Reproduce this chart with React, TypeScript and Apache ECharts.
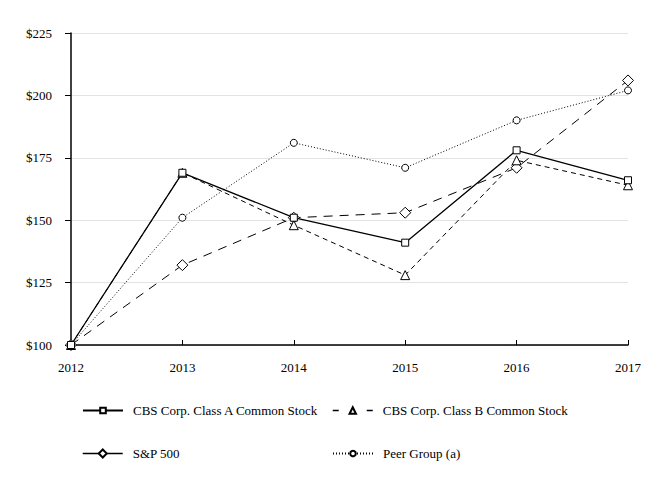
import React, { useEffect, useRef } from "react";
import * as echarts from "echarts";

const years = ["2012", "2013", "2014", "2015", "2016", "2017"];
const classA = [100, 169, 151, 141, 178, 166];
const classB = [100, 169, 148, 128, 174, 164];
const sp500 = [100, 132, 151, 153, 171, 206];
const peer = [100, 151, 181, 171, 190, 202];
const names = [
  "CBS Corp. Class A Common Stock",
  "CBS Corp. Class B Common Stock",
  "S&P 500",
  "Peer Group (a)",
];

const FONT = "'Liberation Serif', 'Times New Roman', serif";

export default function App() {
  const ref = useRef<HTMLDivElement>(null);
  useEffect(() => {
    if (!ref.current) return;
    const chart = echarts.init(ref.current, undefined, { renderer: "svg" });
    const legendBase = {
      itemWidth: 40,
      itemHeight: 7,
      itemGap: 0,
      textStyle: { fontFamily: FONT, fontSize: 13, color: "#000", padding: [0, 0, 0, 5] },
      padding: 0,
    };
    chart.setOption({
      animation: false,
      backgroundColor: "#fff",
      textStyle: { fontFamily: FONT },
      grid: { left: 71, right: 34, top: 33, bottom: 135, containLabel: false },
      xAxis: {
        type: "category",
        data: years,
        boundaryGap: false,
        axisLine: { lineStyle: { color: "#000", width: 1.5 } },
        axisTick: { inside: true, length: 5, lineStyle: { color: "#000" } },
        axisLabel: { fontFamily: FONT, fontSize: 13, color: "#000", margin: 16 },
        splitLine: { show: false },
      },
      yAxis: {
        type: "value",
        min: 100,
        max: 225,
        interval: 25,
        axisLine: { show: true, lineStyle: { color: "#000", width: 1.5 } },
        axisTick: { show: true, length: 6, lineStyle: { color: "#000" } },
        axisLabel: {
          fontFamily: FONT,
          fontSize: 13,
          color: "#000",
          margin: 19,
          formatter: (v: number) => "$" + v,
        },
        splitLine: { lineStyle: { color: "#e3e3e3", width: 1 } },
      },
      legend: [
        { ...legendBase, left: 82, top: 404, data: [names[0]] },
        {
          ...legendBase,
          left: 332,
          top: 404,
          itemHeight: 8,
          data: [{ name: names[1], lineStyle: { type: [6, 28], width: 1.5 } }],
        },
        {
          ...legendBase,
          left: 82,
          top: 447,
          itemHeight: 10,
          data: [{ name: names[2], lineStyle: { type: "solid", width: 1.5 } }],
        },
        { ...legendBase, left: 332, top: 447, data: [names[3]] },
      ],
      series: [
        {
          name: names[3],
          type: "line",
          data: peer,
          symbol: "circle",
          symbolSize: 7,
          color: "#000",
          itemStyle: { color: "#fff", borderColor: "#000", borderWidth: 1 },
          lineStyle: { color: "#000", width: 1, type: [1, 2] },
        },
        {
          name: names[2],
          type: "line",
          data: sp500,
          symbol: "diamond",
          symbolSize: 11,
          color: "#000",
          itemStyle: { color: "#fff", borderColor: "#000", borderWidth: 1 },
          lineStyle: { color: "#000", width: 1, type: [9, 7] },
        },
        {
          name: names[1],
          type: "line",
          data: classB,
          symbol: "triangle",
          symbolSize: 9,
          color: "#000",
          itemStyle: { color: "#fff", borderColor: "#000", borderWidth: 1 },
          lineStyle: { color: "#000", width: 1, type: [5, 4] },
        },
        {
          name: names[0],
          type: "line",
          data: classA,
          symbol: "rect",
          symbolSize: 7,
          color: "#000",
          itemStyle: { color: "#fff", borderColor: "#000", borderWidth: 1 },
          lineStyle: { color: "#000", width: 1.3, type: "solid" },
        },
      ],
    });
    return () => chart.dispose();
  }, []);
  return <div ref={ref} style={{ width: 662, height: 480, position: "absolute", left: 0, top: 0 }} />;
}
